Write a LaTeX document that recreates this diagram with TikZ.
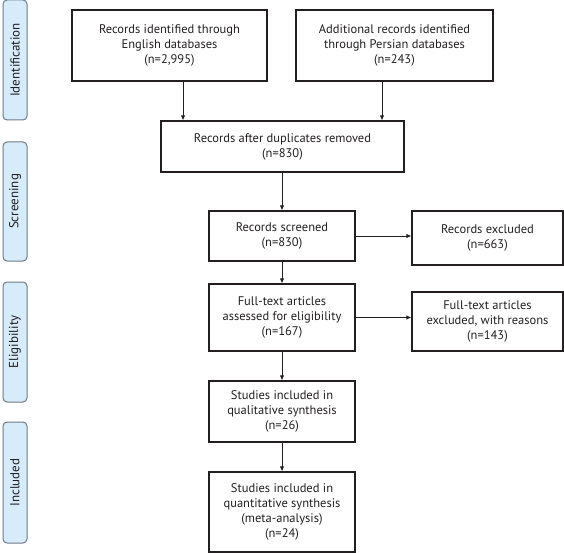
\documentclass[tikz,border=0pt]{standalone}
\usepackage{fontspec}
\setmainfont{PT Sans}
\usetikzlibrary{arrows.meta}
\definecolor{phasefill}{HTML}{D6ECFB}
\definecolor{phaseline}{HTML}{6F7A84}
\definecolor{inkgray}{HTML}{231F20}
\tikzset{
	flowbox/.style={draw=inkgray, line width=1.1pt, align=center, inner sep=2pt,
		text=inkgray, font=\fontsize{12.5}{15}\selectfont},
	phase/.style={draw=phaseline, fill=phasefill, line width=1pt, rounded corners=4pt,
		rotate=90, minimum height=24pt, text=inkgray, font=\fontsize{13}{15}\selectfont},
	flow/.style={-{Latex[length=5pt,width=4.5pt]}, draw=inkgray, line width=0.9pt}
}
\begin{document}
\begin{tikzpicture}[x=1pt, y=-1pt]
	\useasboundingbox (0,0) rectangle (564,553);
	% Phases
	\node[phase, minimum width=120pt] (ident) at (15,60) {Identification};
	\node[phase, minimum width=119pt] (screen) at (15,201.5) {Screening};
	\node[phase, minimum width=120pt] (elig) at (15,342) {Eligibility};
	\node[phase, minimum width=121pt] (incl) at (15,482.5) {Included};
	% Boxes
	\node[flowbox, minimum width=195pt, minimum height=71pt] (eng) at (169.5,45.5)
		{Records identified through\\English databases\\(n=2,995)};
	\node[flowbox, minimum width=197pt, minimum height=71pt] (per) at (394.5,45.5)
		{Additional records identified\\through Persian databases\\(n=243)};
	\node[flowbox, minimum width=243pt, minimum height=51pt] (dup) at (282.5,146.5)
		{Records after duplicates removed\\(n=830)};
	\node[flowbox, minimum width=146pt, minimum height=50pt] (scr) at (282,236)
		{Records screened\\(n=830)};
	\node[flowbox, minimum width=151pt, minimum height=54pt] (exc) at (487.5,238)
		{Records excluded\\(n=663)};
	\node[flowbox, minimum width=146pt, minimum height=67pt] (full) at (282,317.5)
		{Full-text articles\\assessed for eligibility\\(n=167)};
	\node[flowbox, minimum width=151pt, minimum height=59pt] (fexc) at (487.5,321.5)
		{Full-text articles\\excluded, with reasons\\(n=143)};
	\node[flowbox, minimum width=146pt, minimum height=61pt] (qual) at (282,411.5)
		{Studies included in\\qualitative synthesis\\(n=26)};
	\node[flowbox, minimum width=146pt, minimum height=80pt] (quan) at (282,512)
		{Studies included in\\quantitative synthesis\\(meta-analysis)\\(n=24)};
	% Arrows
	\draw[flow] ([xshift=13.5pt]eng.south) -- ([xshift=13.5pt]eng.south |- dup.north);
	\draw[flow] ([xshift=-12.5pt]per.south) -- ([xshift=-12.5pt]per.south |- dup.north);
	\draw[flow] (dup.south -| scr.north) -- (scr.north);
	\draw[flow] (scr.east) -- (scr.east -| exc.west);
	\draw[flow] (scr.south) -- (full.north);
	\draw[flow] (full.east) -- (full.east -| fexc.west);
	\draw[flow] (full.south) -- (qual.north);
	\draw[flow] (qual.south) -- (quan.north);
\end{tikzpicture}
\end{document}
